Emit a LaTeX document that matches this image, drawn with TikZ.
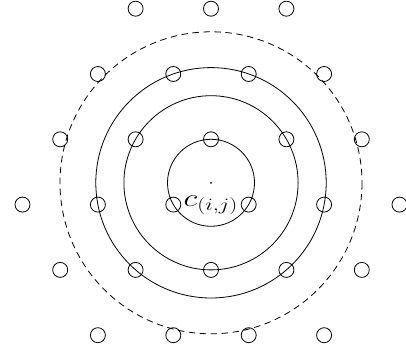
\documentclass[tikz,border=0pt]{standalone}
\begin{document}
\begin{tikzpicture}[x=1pt,y=-1pt,
  lattice/.style={circle,draw,line width=0.8pt,minimum size=15pt,inner sep=0pt},
  ring/.style={line width=0.8pt},
  dashring/.style={line width=0.8pt,dash pattern=on 6.5pt off 4.5pt}]
\useasboundingbox (0,0) rectangle (406,352);
\clip (0,0) rectangle (406,352);
\coordinate (C) at (211,182.8);
% rings
\draw[ring] (C) circle[radius=43.5];
\draw[ring] (C) circle[radius=87.1];
\draw[ring] (C) circle[radius=115.2];
\draw[dashring] (C) circle[radius=151];
% lattice points
\foreach \k in {-1,0,1} \node[lattice] (r0-\k) at ({211+\k*75.4},8.7) {};
\foreach \k in {-2,-1,0,1} \node[lattice] (r1-\k) at ({211+(\k+0.5)*75.4},74.0) {};
\foreach \k in {-2,-1,0,1,2} \node[lattice] (r2-\k) at ({211+\k*75.4},139.3) {};
\foreach \k in {-3,-2,-1,0,1,2} \node[lattice] (r3-\k) at ({211+(\k+0.5)*75.4},204.6) {};
\foreach \k in {-2,-1,0,1,2} \node[lattice] (r4-\k) at ({211+\k*75.4},269.9) {};
\foreach \k in {-2,-1,0,1} \node[lattice] (r5-\k) at ({211+(\k+0.5)*75.4},335.2) {};
% centre
\fill (C) circle[radius=1];
\node[anchor=base,inner sep=0pt,font=\fontsize{24}{28}\selectfont,xscale=1.3] (lab) at (210.8,206.5) {$c_{(i,j)}$};
\end{tikzpicture}
\end{document}
